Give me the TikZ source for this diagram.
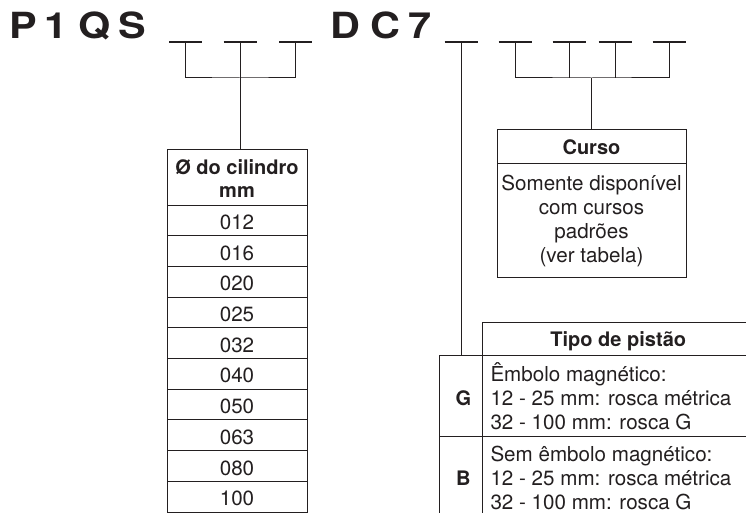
\documentclass[tikz,border=0pt]{standalone}
\usepackage{fontspec}
\setmainfont{TeX Gyre Heros}
\definecolor{ink}{HTML}{231F20}
\begin{document}
\begin{tikzpicture}[x=1pt,y=-1pt,
  every node/.style={inner sep=0pt,outer sep=0pt,text=ink},
  big/.style={font=\fontsize{36}{36}\selectfont\bfseries,anchor=base},
  hd/.style={font=\fontsize{20}{24}\selectfont\bfseries,anchor=base},
  bd/.style={font=\fontsize{20.6}{24}\selectfont,anchor=base},
  bdl/.style={font=\fontsize{20.6}{24}\selectfont,anchor=base west},
  box/.style={draw=ink,line width=1pt,rectangle},
  conn/.style={draw=ink,line width=1pt},
  dashmark/.style={draw=ink,line width=2.7pt},
]
\clip (0,0) rectangle (746,513);
% code letters
\node[big] (P)  at (23.5,38.3) {\scalebox{1.15}[1]{P}};
\node[big] (n1) at (56,38.3)   {\scalebox{1.15}[1]{1}};
\node[big] (Q)  at (95,38.3)   {\scalebox{1.15}[1]{Q}};
\node[big] (S)  at (132,38.3)  {\scalebox{1.15}[1]{S}};
\node[big] (D)  at (345,38.3)  {\scalebox{1.15}[1]{D}};
\node[big] (C)  at (385,38.3)  {\scalebox{1.15}[1]{C}};
\node[big] (n7) at (420,38.3)  {\scalebox{1.15}[1]{7}};
% dash positions
\coordinate (d1) at (185.7,42);
\coordinate (d2) at (240,42);
\coordinate (d3) at (295.7,42);
\coordinate (e1) at (461,42);
\coordinate (e2) at (515,42);
\coordinate (e3) at (569,42);
\coordinate (e4) at (615,42);
\coordinate (e5) at (669,42);
\coordinate (bar1) at (240,78);
\coordinate (bar2) at (591.5,78);
\foreach \c in {d1,d2,d3,e1,e2,e3,e4,e5}
  \draw[dashmark] ([xshift=-16.5pt]\c) -- ([xshift=16.5pt]\c);
% cylinder table
\node[box,minimum width=140,minimum height=55] (cylhead) at (237,177.5) {};
\node[hd] (cylt1) at (237,175) {Ø do cilindro};
\node[hd] (cylt2) at (237,197.3) {mm};
\foreach \v [count=\i] in {012,016,020,025,032,040,050,063,080,100} {
  \node[box,minimum width=140,minimum height=30.7] (cyl\i) at (237,{205+30.7*(\i-0.5)}) {};
  \node[bd] (cylv\i) at (237,{205+30.7*(\i-1)+24.4}) {\v};
}
% curso box
\node[box,minimum width=189,minimum height=34] (cursohead) at (591.5,147) {};
\node[box,minimum width=189,minimum height=113] (cursobody) at (591.5,220.5) {};
\node[hd] (cursot) at (591.5,154.3) {Curso};
\node[bd] (cb1) at (591.5,190.7) {Somente disponível};
\node[bd] (cb2) at (591.5,214.7) {com cursos};
\node[bd] (cb3) at (591.5,238.7) {padrões};
\node[bd] (cb4) at (591.5,262.7) {(ver tabela)};
% tipo de pistao table
\node[box,minimum width=272,minimum height=32.7] (tipohead) at (618,338.65) {};
\node[box,minimum width=43,minimum height=81.7] (tipoG) at (460.5,395.85) {};
\node[box,minimum width=43,minimum height=83.3] (tipoB) at (460.5,478.35) {};
\node[box,minimum width=272,minimum height=81.7] (tipoGt) at (618,395.85) {};
\node[box,minimum width=272,minimum height=83.3] (tipoBt) at (618,478.35) {};
\node[hd] (tipot) at (618.3,346.7) {Tipo de pistão};
\node[hd] (Gl) at (463.3,405.7) {G};
\node[hd] (Bl) at (463.3,485) {B};
\node[bdl] (g1) at (490.5,381.7) {Êmbolo magnético:};
\node[bdl] (g2) at (490.5,405.7) {12 - 25 mm: rosca métrica};
\node[bdl] (g3) at (490.5,429) {32 - 100 mm: rosca G};
\node[bdl] (b1) at (490.5,461) {Sem êmbolo magnético:};
\node[bdl] (b2) at (490.5,485) {12 - 25 mm: rosca métrica};
\node[bdl] (b3) at (490.5,509.3) {32 - 100 mm: rosca G};
% connectors
\draw[conn] (d1) |- (bar1) -| (d3);
\draw[conn] (d2) -- (d2 |- cylhead.north);
\draw[conn] (e2) |- (bar2) -| (e5);
\draw[conn] (e3) -- (e3 |- bar2);
\draw[conn] (e4) -- (e4 |- bar2);
\draw[conn] (bar2) -- (cursohead.north);
\draw[conn] (e1) -- (e1 |- tipoG.north);
\end{tikzpicture}
\end{document}
